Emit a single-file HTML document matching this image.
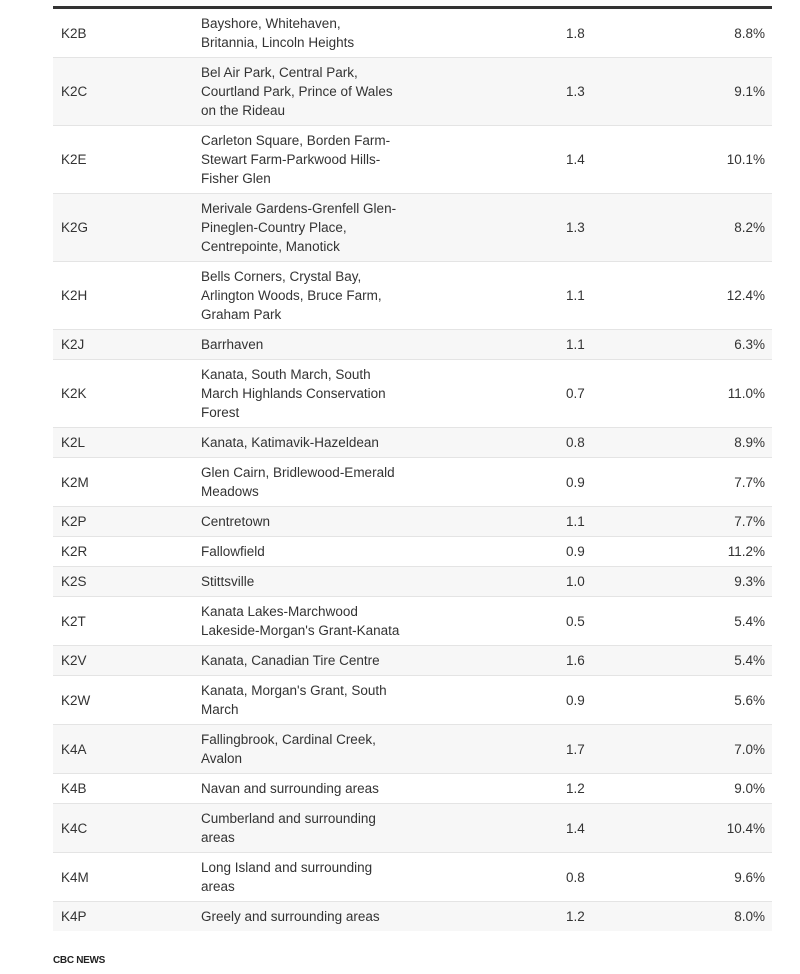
<!DOCTYPE html>
<html><head><meta charset="utf-8"><style>
body{margin:0;background:#fff;font-family:"Liberation Sans",sans-serif;color:#333;}
table{position:absolute;left:53px;top:6px;width:719px;border-collapse:collapse;border-top:3px solid #333;font-size:13.5px;}
td{padding:5px 0 5px 0;line-height:19px;border-bottom:1px solid #e4e4e4;vertical-align:middle;}
tr:nth-child(even) td{background:#f7f7f7;}
tr:last-child td{border-bottom:none;}
td.c{padding-left:8px;width:140px;}
td.n{width:365px;}
td.v{width:100px;}
td.p{text-align:right;padding-right:7px;}
.f{position:absolute;left:53px;top:955px;font-size:10px;font-weight:bold;color:#222;letter-spacing:-0.3px;}
</style></head><body>
<table>
<tr><td class="c">K2B</td><td class="n">Bayshore, Whitehaven,<br>Britannia, Lincoln Heights</td><td class="v">1.8</td><td class="p">8.8%</td></tr>
<tr><td class="c">K2C</td><td class="n">Bel Air Park, Central Park,<br>Courtland Park, Prince of Wales<br>on the Rideau</td><td class="v">1.3</td><td class="p">9.1%</td></tr>
<tr><td class="c">K2E</td><td class="n">Carleton Square, Borden Farm-<br>Stewart Farm-Parkwood Hills-<br>Fisher Glen</td><td class="v">1.4</td><td class="p">10.1%</td></tr>
<tr><td class="c">K2G</td><td class="n">Merivale Gardens-Grenfell Glen-<br>Pineglen-Country Place,<br>Centrepointe, Manotick</td><td class="v">1.3</td><td class="p">8.2%</td></tr>
<tr><td class="c">K2H</td><td class="n">Bells Corners, Crystal Bay,<br>Arlington Woods, Bruce Farm,<br>Graham Park</td><td class="v">1.1</td><td class="p">12.4%</td></tr>
<tr><td class="c">K2J</td><td class="n">Barrhaven</td><td class="v">1.1</td><td class="p">6.3%</td></tr>
<tr><td class="c">K2K</td><td class="n">Kanata, South March, South<br>March Highlands Conservation<br>Forest</td><td class="v">0.7</td><td class="p">11.0%</td></tr>
<tr><td class="c">K2L</td><td class="n">Kanata, Katimavik-Hazeldean</td><td class="v">0.8</td><td class="p">8.9%</td></tr>
<tr><td class="c">K2M</td><td class="n">Glen Cairn, Bridlewood-Emerald<br>Meadows</td><td class="v">0.9</td><td class="p">7.7%</td></tr>
<tr><td class="c">K2P</td><td class="n">Centretown</td><td class="v">1.1</td><td class="p">7.7%</td></tr>
<tr><td class="c">K2R</td><td class="n">Fallowfield</td><td class="v">0.9</td><td class="p">11.2%</td></tr>
<tr><td class="c">K2S</td><td class="n">Stittsville</td><td class="v">1.0</td><td class="p">9.3%</td></tr>
<tr><td class="c">K2T</td><td class="n">Kanata Lakes-Marchwood<br>Lakeside-Morgan's Grant-Kanata</td><td class="v">0.5</td><td class="p">5.4%</td></tr>
<tr><td class="c">K2V</td><td class="n">Kanata, Canadian Tire Centre</td><td class="v">1.6</td><td class="p">5.4%</td></tr>
<tr><td class="c">K2W</td><td class="n">Kanata, Morgan's Grant, South<br>March</td><td class="v">0.9</td><td class="p">5.6%</td></tr>
<tr><td class="c">K4A</td><td class="n">Fallingbrook, Cardinal Creek,<br>Avalon</td><td class="v">1.7</td><td class="p">7.0%</td></tr>
<tr><td class="c">K4B</td><td class="n">Navan and surrounding areas</td><td class="v">1.2</td><td class="p">9.0%</td></tr>
<tr><td class="c">K4C</td><td class="n">Cumberland and surrounding<br>areas</td><td class="v">1.4</td><td class="p">10.4%</td></tr>
<tr><td class="c">K4M</td><td class="n">Long Island and surrounding<br>areas</td><td class="v">0.8</td><td class="p">9.6%</td></tr>
<tr><td class="c">K4P</td><td class="n">Greely and surrounding areas</td><td class="v">1.2</td><td class="p">8.0%</td></tr>
</table>
<div class="f">CBC NEWS</div>
</body></html>
